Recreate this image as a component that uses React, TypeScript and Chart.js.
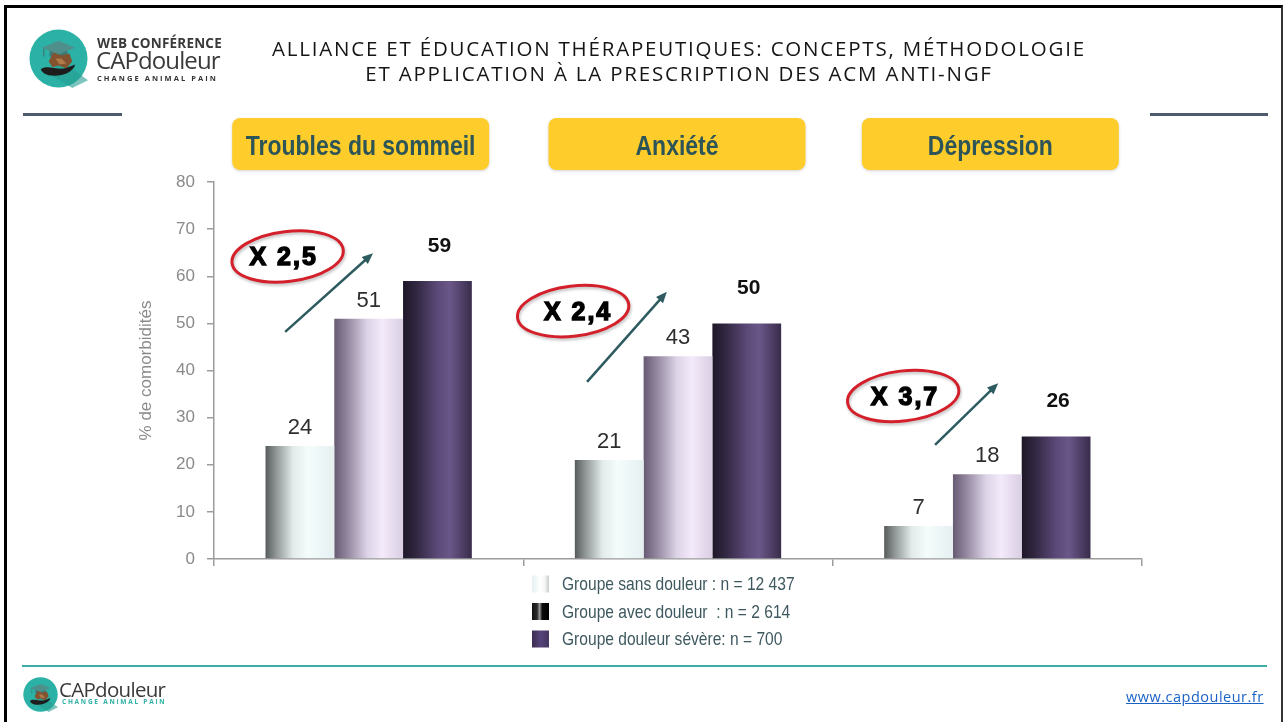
import React, { useEffect, useRef } from "react";
import { Chart, registerables } from "chart.js";

Chart.register(...registerables);

// ---------- DATA ----------
const categories = ["Troubles du sommeil", "Anxiété", "Dépression"];
const seriesLabels = [
  "Groupe sans douleur : n = 12 437",
  "Groupe avec douleur  : n = 2 614",
  "Groupe douleur sévère: n = 700",
];
const sansDouleur = [24, 21, 7];
const avecDouleur = [51, 43, 18];
const douleurSevere = [59, 50, 26];
const multipliers = ["X 2,5", "X 2,4", "X 3,7"];
const yMin = 0;
const yMax = 80;
const yStep = 10;
const yTitle = "% de comorbidités";

// annotation anchors (category-offset, value units)
const annotationAnchors = [
  { ex: -0.262, ey: 64.2, tx: -0.275, from: [-0.27, 48.2], to: [0.014, 64.9] },
  { ex: -0.339, ey: 52.6, tx: -0.323, from: [-0.294, 37.6], to: [-0.036, 56.7] },
  { ex: -0.272, ey: 34.6, tx: -0.266, from: [-0.169, 24.2], to: [0.035, 37.3] },
];

// ---------- STYLE ----------
const SANS = "'Liberation Sans', Arial, sans-serif";
const CAT_PCT = 0.667;
const NARROW_SCALE = 0.82;
const BOX_SHIFT = [-8, -1, 3];

const barStops: [number, string][][] = [
  [[0, "#565c5b"], [0.15, "#8e9594"], [0.4, "#e2eaea"], [0.62, "#f4fcfc"], [1, "#e6f0f0"]],
  [[0, "#665b72"], [0.18, "#8f849c"], [0.48, "#ddd3e7"], [0.7, "#f3eafa"], [1, "#d9cee3"]],
  [[0, "#1e1728"], [0.18, "#30263f"], [0.5, "#5b4978"], [0.68, "#6a5789"], [1, "#392c4b"]],
];

function barGradient(dsIndex: number) {
  return (c: any) => {
    const chart = c.chart;
    const xs = chart.scales && chart.scales.x;
    if (!chart.chartArea || !xs || c.dataIndex === undefined) return barStops[dsIndex][2][1];
    const catW = xs.width / categories.length;
    const groupW = catW * CAT_PCT;
    const barW = groupW / 3;
    const center = xs.getPixelForValue(c.dataIndex);
    const left = center - groupW / 2 + dsIndex * barW;
    const g = chart.ctx.createLinearGradient(left, 0, left + barW, 0);
    barStops[dsIndex].forEach(([o, col]) => g.addColorStop(o, col));
    return g;
  };
}

function narrowText(ctx: CanvasRenderingContext2D, text: string, x: number, y: number, sx: number) {
  ctx.save();
  ctx.translate(x, y);
  ctx.scale(sx, 1);
  ctx.fillText(text, 0, 0);
  ctx.restore();
}

const slidePlugin = {
  id: "slideDecor",
  afterDatasetsDraw(chart: any) {
    const { ctx, chartArea: area } = chart;
    const xs = chart.scales.x;
    const ys = chart.scales.y;
    const catW = xs.width / categories.length;

    // category boxes
    categories.forEach((cat, i) => {
      const cx = xs.getPixelForValue(i) + BOX_SHIFT[i];
      const w = 257;
      const h = 52;
      const top = area.top - 64;
      ctx.save();
      ctx.shadowColor = "rgba(0,0,0,0.18)";
      ctx.shadowBlur = 3;
      ctx.shadowOffsetY = 1;
      ctx.fillStyle = "#fecd2c";
      ctx.beginPath();
      ctx.roundRect(cx - w / 2, top, w, h, 8);
      ctx.fill();
      ctx.restore();
      ctx.save();
      ctx.fillStyle = "#2d5457";
      ctx.font = `bold 28px ${SANS}`;
      ctx.textAlign = "center";
      ctx.textBaseline = "middle";
      narrowText(ctx, cat, cx, top + h / 2 + 3, NARROW_SCALE);
      ctx.restore();
    });

    // value labels
    chart.data.datasets.forEach((ds: any, di: number) => {
      const meta = chart.getDatasetMeta(di);
      meta.data.forEach((el: any, i: number) => {
        ctx.save();
        ctx.textAlign = "center";
        ctx.textBaseline = "alphabetic";
        if (di === 2) {
          ctx.font = `bold 21px ${SANS}`;
          ctx.fillStyle = "#111";
          ctx.fillText(String(ds.data[i]), el.x + 2, el.y - 29);
        } else {
          ctx.font = `22px ${SANS}`;
          ctx.fillStyle = "#2e2e2e";
          ctx.fillText(String(ds.data[i]), el.x, el.y - 12);
        }
        ctx.restore();
      });
    });

    // annotations
    annotationAnchors.forEach((a, i) => {
      const cx = xs.getPixelForValue(i);
      const ex = cx + a.ex * catW;
      const ey = ys.getPixelForValue(a.ey);
      ctx.save();
      ctx.shadowColor = "rgba(0,0,0,0.25)";
      ctx.shadowBlur = 3;
      ctx.shadowOffsetX = 1;
      ctx.shadowOffsetY = 2;
      ctx.strokeStyle = "#d3202b";
      ctx.lineWidth = 3;
      ctx.beginPath();
      ctx.ellipse(ex, ey, 56, 25, -0.12, 0, Math.PI * 2);
      ctx.stroke();
      ctx.restore();

      ctx.save();
      ctx.font = `bold 25px ${SANS}`;
      (ctx as any).letterSpacing = "2px";
      ctx.fillStyle = "#000";
      ctx.strokeStyle = "#000";
      ctx.lineWidth = 1.4;
      ctx.textAlign = "center";
      ctx.textBaseline = "middle";
      const tx = cx + a.tx * catW;
      ctx.fillText(multipliers[i], tx, ey + 2);
      ctx.strokeText(multipliers[i], tx, ey + 2);
      ctx.restore();

      // arrow
      const x1 = cx + a.from[0] * catW;
      const y1 = ys.getPixelForValue(a.from[1]);
      const x2 = cx + a.to[0] * catW;
      const y2 = ys.getPixelForValue(a.to[1]);
      const ang = Math.atan2(y2 - y1, x2 - x1);
      const hl = 12;
      ctx.save();
      ctx.strokeStyle = "#2d5b60";
      ctx.fillStyle = "#2d5b60";
      ctx.lineWidth = 2.5;
      ctx.beginPath();
      ctx.moveTo(x1, y1);
      ctx.lineTo(x2 - Math.cos(ang) * hl * 0.7, y2 - Math.sin(ang) * hl * 0.7);
      ctx.stroke();
      ctx.beginPath();
      ctx.moveTo(x2, y2);
      ctx.lineTo(x2 - hl * Math.cos(ang - 0.4), y2 - hl * Math.sin(ang - 0.4));
      ctx.lineTo(x2 - hl * Math.cos(ang + 0.4), y2 - hl * Math.sin(ang + 0.4));
      ctx.closePath();
      ctx.fill();
      ctx.restore();
    });

    // legend
    const lx = (area.left + area.right) / 2 - 146;
    chart.data.datasets.forEach((ds: any, di: number) => {
      const cy = area.bottom + 25 + di * 27.5;
      const sw = 17;
      const sh = 17;
      const sx = lx;
      const sy = cy - sh / 2;
      const g = ctx.createLinearGradient(sx, 0, sx + sw, 0);
      if (di === 0) {
        g.addColorStop(0, "#e6f1f3");
        g.addColorStop(0.5, "#ffffff");
        g.addColorStop(0.75, "#f4f6f6");
        g.addColorStop(1, "#c9cccc");
      } else if (di === 1) {
        g.addColorStop(0, "#101010");
        g.addColorStop(0.3, "#2a2a2a");
        g.addColorStop(0.45, "#9a9a9a");
        g.addColorStop(0.6, "#0c0c0c");
        g.addColorStop(1, "#000000");
      } else {
        g.addColorStop(0, "#3a2d4f");
        g.addColorStop(0.5, "#55437a");
        g.addColorStop(1, "#45365f");
      }
      ctx.save();
      ctx.fillStyle = g;
      ctx.fillRect(sx, sy, sw, sh);
      ctx.fillStyle = "#3d585e";
      ctx.font = `19px ${SANS}`;
      ctx.textAlign = "left";
      ctx.textBaseline = "middle";
      narrowText(ctx, ds.label, sx + 30, cy + 1, NARROW_SCALE);
      ctx.restore();
    });
  },
};

function LogoMark({ size }: { size: number }) {
  return (
    <svg width={size} height={size} viewBox="0 0 60 60">
      <circle cx="30" cy="30" r="29.5" fill="#2bb1a5" />
      <polygon points="30,30 60,52 44,60 24,48" fill="#249c91" opacity="0.6" />
      <polygon points="13,19 30,12 47,19 30,26" fill="#4f8f8b" />
      <polygon points="21,22 21,28 30,31 39,28 39,22 30,26" fill="#3e7773" />
      <line x1="15" y1="20" x2="15" y2="28" stroke="#3e7773" strokeWidth="1.2" />
      <path d="M20 33 L25 24 L33 27 L41 25 L44 33 L38 40 L30 37 L24 39 Z" fill="#83532f" />
      <path d="M27 30 L33 30 L38 35 L31 36 Z" fill="#b07a4b" />
      <path d="M12 41 C18 36 28 42 37 40 L47 36 C45 44 33 49 20 47 C16 46 13 44 12 41 Z" fill="#1d1d1d" />
    </svg>
  );
}

export default function App() {
  const canvasRef = useRef<HTMLCanvasElement | null>(null);

  useEffect(() => {
    const canvas = canvasRef.current;
    if (!canvas) return;
    const chart = new Chart(canvas, {
      type: "bar",
      data: {
        labels: categories,
        datasets: [
          { label: seriesLabels[0], data: sansDouleur, backgroundColor: barGradient(0) as any, borderWidth: 0 },
          { label: seriesLabels[1], data: avecDouleur, backgroundColor: barGradient(1) as any, borderWidth: 0 },
          { label: seriesLabels[2], data: douleurSevere, backgroundColor: barGradient(2) as any, borderWidth: 0 },
        ],
      },
      options: {
        responsive: false,
        animation: false,
        devicePixelRatio: 1,
        events: [],
        layout: { padding: { left: 132, right: 141, top: 182, bottom: 153 } },
        datasets: { bar: { categoryPercentage: CAT_PCT, barPercentage: 1 } },
        plugins: {
          legend: { display: false },
          tooltip: { enabled: false },
          title: { display: false },
        },
        scales: {
          x: {
            type: "category",
            offset: true,
            ticks: { display: false },
            grid: {
              display: true,
              drawOnChartArea: false,
              drawTicks: true,
              tickLength: 7,
              color: "#9c9c9c",
              lineWidth: 1.5,
              offset: true,
            },
            border: { display: true, color: "#9c9c9c", width: 1.5 },
            afterFit: (s: any) => {
              s.height = 10;
            },
          },
          y: {
            min: yMin,
            max: yMax,
            ticks: {
              stepSize: yStep,
              color: "#8a8a8a",
              padding: 12,
              font: { family: SANS, size: 17 },
            },
            grid: {
              display: true,
              drawOnChartArea: false,
              drawTicks: true,
              tickLength: 7,
              color: "#9c9c9c",
              lineWidth: 1.5,
            },
            border: { display: true, color: "#9c9c9c", width: 1.5 },
            title: {
              display: true,
              text: yTitle,
              color: "#8a8a8a",
              font: { family: SANS, size: 17 },
              padding: { top: 4, bottom: 4 },
            },
            afterFit: (s: any) => {
              s.width = 82;
            },
          },
        },
      },
      plugins: [slidePlugin as any],
    });
    return () => chart.destroy();
  }, []);

  const wrap: React.CSSProperties = {
    position: "fixed",
    left: 0,
    top: 0,
    width: 1283,
    height: 722,
    overflow: "hidden",
    background: "#fff",
  };

  return (
    <div style={wrap}>
      {/* slide frame */}
      <div
        style={{
          position: "absolute",
          left: 4,
          top: 5,
          width: 1283 - 4 - 3 - 2,
          height: 760,
          borderTop: "3px solid #000",
          borderLeft: "3px solid #000",
          borderRight: "2px solid #333",
        }}
      />
      <canvas
        ref={canvasRef}
        width={1283}
        height={722}
        style={{ position: "absolute", left: 0, top: 0, width: 1283, height: 722 }}
      />

      {/* header logo */}
      <div style={{ position: "absolute", left: 29, top: 29 }}>
        <LogoMark size={59} />
      </div>
      <div
        style={{
          position: "absolute",
          left: 97,
          top: 35,
          fontFamily: "'Open Sans', sans-serif",
          fontWeight: 700,
          fontSize: 13.5,
          lineHeight: "16px",
          letterSpacing: 0.2,
          color: "#3a3a3a",
          whiteSpace: "nowrap",
        }}
      >
        WEB CONFÉRENCE
      </div>
      <div
        style={{
          position: "absolute",
          left: 96,
          top: 46,
          fontFamily: "'Open Sans', sans-serif",
          fontSize: 24,
          lineHeight: "28px",
          letterSpacing: -0.9,
          color: "#3a3a3a",
          whiteSpace: "nowrap",
        }}
      >
        <span style={{ fontWeight: 500 }}>CAP</span>
        <span style={{ fontWeight: 400 }}>douleur</span>
      </div>
      <div
        style={{
          position: "absolute",
          left: 97,
          top: 73,
          fontFamily: "'Open Sans', sans-serif",
          fontWeight: 700,
          fontSize: 7.5,
          lineHeight: "10px",
          letterSpacing: 2.05,
          color: "#333",
          whiteSpace: "nowrap",
        }}
      >
        CHANGE ANIMAL PAIN
      </div>

      {/* title */}
      {[
        "ALLIANCE ET ÉDUCATION THÉRAPEUTIQUES: CONCEPTS, MÉTHODOLOGIE",
        "ET APPLICATION À LA PRESCRIPTION DES ACM ANTI-NGF",
      ].map((t, i) => (
        <div
          key={i}
          style={{
            position: "absolute",
            left: 0,
            width: 1358,
            top: 36 + i * 25,
            textAlign: "center",
            fontFamily: "'Open Sans', sans-serif",
            fontSize: 20.5,
            lineHeight: "25px",
            letterSpacing: 1.8,
            color: "#151515",
            whiteSpace: "nowrap",
          }}
        >
          {t}
        </div>
      ))}

      {/* separators */}
      <div style={{ position: "absolute", left: 23, top: 113, width: 99, height: 3, background: "#4e5a6e" }} />
      <div style={{ position: "absolute", left: 1150, top: 113, width: 118, height: 3, background: "#4e5a6e" }} />

      {/* footer */}
      <div style={{ position: "absolute", left: 22, top: 665, width: 1245, height: 2, background: "#3aaea3" }} />
      <div style={{ position: "absolute", left: 23, top: 677 }}>
        <LogoMark size={35} />
      </div>
      <div
        style={{
          position: "absolute",
          left: 59,
          top: 677,
          fontFamily: "'Open Sans', sans-serif",
          fontSize: 20.5,
          lineHeight: "24px",
          letterSpacing: -0.7,
          color: "#3a3a3a",
          whiteSpace: "nowrap",
        }}
      >
        <span style={{ fontWeight: 500 }}>CAP</span>
        <span>douleur</span>
      </div>
      <div
        style={{
          position: "absolute",
          left: 62,
          top: 698,
          fontFamily: "'Open Sans', sans-serif",
          fontWeight: 700,
          fontSize: 6.5,
          lineHeight: "8px",
          letterSpacing: 1.75,
          color: "#2eb0a5",
          whiteSpace: "nowrap",
        }}
      >
        CHANGE ANIMAL PAIN
      </div>
      <div
        style={{
          position: "absolute",
          left: 1126,
          top: 688,
          fontFamily: "'Open Sans', sans-serif",
          fontSize: 14.5,
          lineHeight: "18px",
          letterSpacing: 0.5,
          color: "#1a62c8",
          textDecoration: "underline",
          whiteSpace: "nowrap",
        }}
      >
        www.capdouleur.fr
      </div>
    </div>
  );
}
